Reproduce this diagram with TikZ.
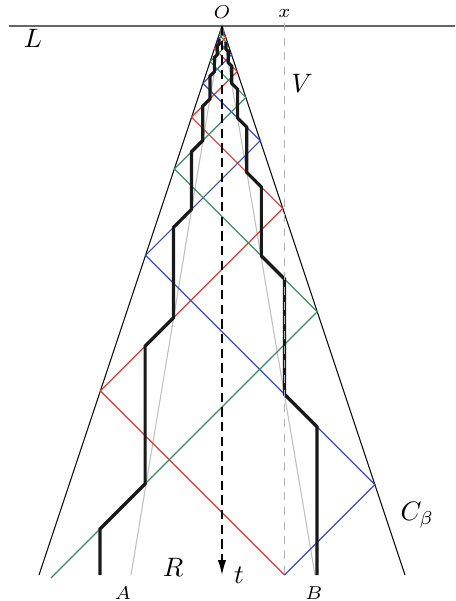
\documentclass[tikz,border=0pt]{standalone}
\usepackage{amsmath,amssymb}
\usepackage{tikz}
\usetikzlibrary{arrows.meta}

\definecolor{rojo}{rgb}{0.9,0.22,0.2}
\definecolor{verde}{rgb}{0.22,0.56,0.38}
\definecolor{azul}{rgb}{0.22,0.3,0.76}

\begin{document}
\begin{tikzpicture}[x=0.375pt, y=0.375pt,
  cono/.style={line width=0.4pt},
  sombra/.style={black!25, line width=0.4pt},
  rayo/.style={line width=0.45pt},
  camino/.style={line width=1.2pt, black!90},
  etiq/.style={inner sep=0pt, font=\normalsize},
  etiqp/.style={inner sep=0pt, font=\scriptsize}]
\useasboundingbox (-222,26) rectangle (233,-575);
\coordinate (O) at (0,0);
\coordinate (cl) at (-183,-549);
\coordinate (cr) at (183,-549);
\coordinate (a) at (-91,-549);
\coordinate (b) at (93,-549);
\coordinate (xs) at (62.5,3);
\coordinate (xt) at (62.5,-549);
\coordinate (tt) at (0,-549);
\coordinate (l0) at (-213,0);
\coordinate (l1) at (233,0);

\draw[black!60, line width=0.7pt](l0)--(l1);
\draw[cono](cl)--(O)--(cr);
\draw[sombra](a)--(O)--(b);
\foreach \col/\px/\py/\s/\d in {rojo/62.5/-549/-1/364.875, azul/62.5/-549/1/458.625, verde/-171/-552/1/285.75}
  \draw[rayo, \col](\px,\py) \foreach \j in {0,...,10} {--({\s*(1-2*mod(\j,2))*\d/(3*2^\j)},{-\d/2^\j})};

\draw[camino](-122,-549)--(-122,-503)--(-76.86,-457.86)--(-76.86,-320.11)--(-48.42,-291.67)
  --(-48.42,-201.29)--(-30.5,-183.38)--(-30.5,-125.75)--(-19.21,-114.46)--(-19.21,-80.03)
  --(-12.1,-72.92)--(-12.1,-50.32)--(-7.63,-45.84)--(-7.63,-31.44)--(-4.8,-28.62)
  --(-4.8,-20.01)--(-3.03,-18.23)--(-3.03,-12.58);
\draw[camino](95,-549)--(95,-400.75)--(62.5,-368.25)--(62.5,-253)--(39.37,-229.87)
  --(39.37,-161)--(24.8,-146.43)--(24.8,-101.24)--(15.63,-92.06)--(15.63,-63.25)
  --(9.84,-57.47)--(9.84,-40.25)--(6.2,-36.61)--(6.2,-25.31)--(3.91,-23.02)
  --(3.91,-15.81);

\draw[black!30, line width=0.4pt, dash pattern=on 3pt off 2.5pt](xs)--(xt);
\draw[line width=0.6pt, dash pattern=on 3.5pt off 2pt, -{Latex[length=5.6pt,width=3.2pt]}](O)--(tt);

\node[etiq](nL) at (-189,-12){$L$};
\node[etiqp](nO) at (0,14){$O$};
\node[etiqp](nx) at (62.5,13){$x$};
\node[etiq](nV) at (80,-57){$V$};
\node[etiq](nR) at (-49,-541){$R$};
\node[etiq](nt) at (17,-549){$t$};
\node[etiqp](nA) at (-99,-567){$A$};
\node[etiqp](nB) at (92,-567){$B$};
\node[etiq, anchor=west](nC) at (178,-489){$C_\beta$};
\end{tikzpicture}
\end{document}
